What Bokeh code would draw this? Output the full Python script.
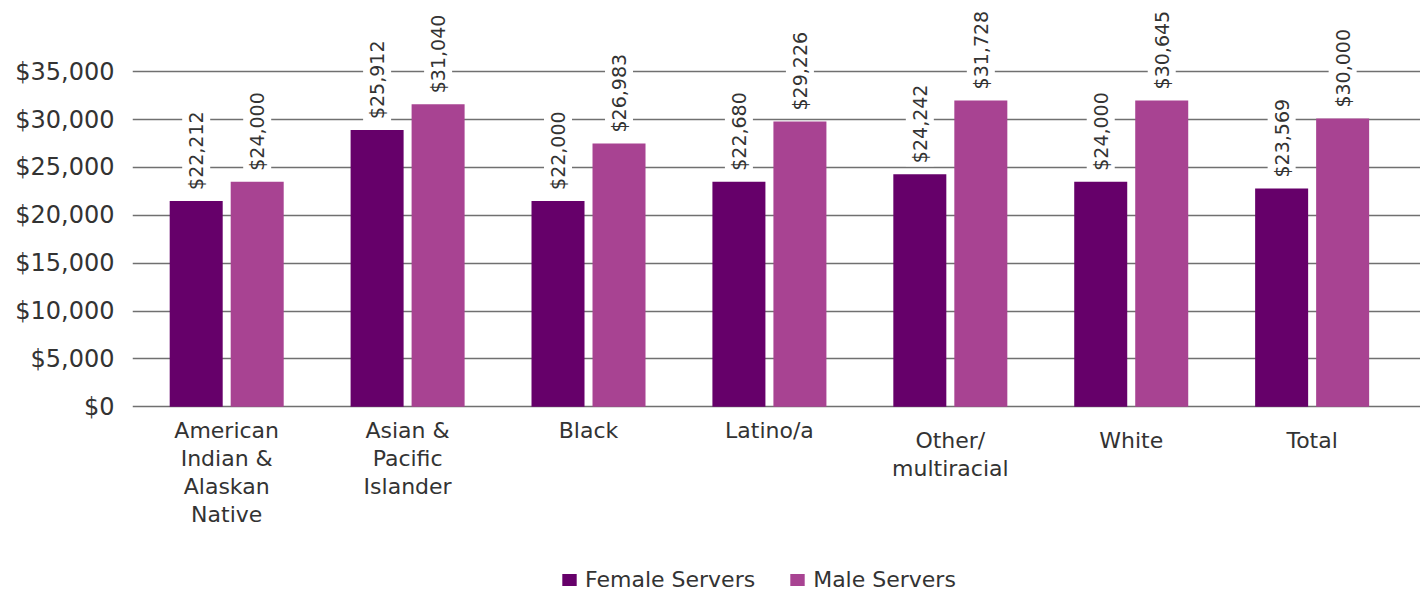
import numpy as np
from bokeh.plotting import figure
from bokeh.models import (Range1d, FixedTicker, NumeralTickFormatter, ColumnDataSource,
                          Legend, LegendItem)
from bokeh.core.properties import value
from bokeh.embed import file_html
from bokeh.resources import INLINE

# ---------------- data ----------------
categories = ["American\nIndian &\nAlaskan\nNative", "Asian &\nPacific\nIslander", "Black",
              "Latino/a", "Other/\nmultiracial", "White", "Total"]
series_names = ["Female Servers", "Male Servers"]
female_bar = [21500, 28900, 21500, 23500, 24300, 23500, 22800]
male_bar = [23500, 31600, 27500, 29800, 32000, 32000, 30100]
female_labels = ["$22,212", "$25,912", "$22,000", "$22,680", "$24,242", "$24,000", "$23,569"]
male_labels = ["$24,000", "$31,040", "$26,983", "$29,226", "$31,728", "$30,645", "$30,000"]
y_ticks = [0, 5000, 10000, 15000, 20000, 25000, 30000, 35000]

# ---------------- style ----------------
FONT = "DejaVu Sans"
TEXT = "#333333"
FEMALE_COLOR = "#66006a"
MALE_COLOR = "#a84392"
BAR_W = 0.293
DODGE = 0.1686
cat_label_offset = [11, 11, 11, 11, 21, 21, 21]

x = np.arange(len(categories), dtype=float)

p = figure(width=1420, height=592, output_backend="svg", toolbar_location=None,
           x_axis_location=None, y_axis_location="left",
           x_range=Range1d(-0.5207, 6.599), y_range=Range1d(-19384, 42431),
           min_border_left=132, min_border_right=0, min_border_top=0, min_border_bottom=0)
p.outline_line_color = None
p.background_fill_color = "white"
p.border_fill_color = "white"

src_f = ColumnDataSource(dict(x=x - DODGE, top=female_bar, lab=female_labels))
src_m = ColumnDataSource(dict(x=x + DODGE, top=male_bar, lab=male_labels))

rf = p.vbar(x="x", top="top", bottom=0, width=BAR_W, source=src_f,
            fill_color=FEMALE_COLOR, line_color=None)
rm = p.vbar(x="x", top="top", bottom=0, width=BAR_W, source=src_m,
            fill_color=MALE_COLOR, line_color=None)

for src in (src_f, src_m):
    p.text(x="x", y="top", text="lab", source=src, angle=np.pi / 2,
           text_align="left", text_baseline="middle", y_offset=-8,
           text_font=value(FONT), text_font_size="19px", text_color=TEXT,
           background_fill_color="white", padding=3)

src_c = ColumnDataSource(dict(x=x, y=[0] * len(categories), text=categories,
                              yoff=cat_label_offset))
p.text(x="x", y="y", text="text", y_offset="yoff", source=src_c,
       text_align="center", text_baseline="top", text_line_height=1.12,
       text_font=value(FONT), text_font_size="22px", text_color=TEXT)

# axis & grid
p.yaxis.ticker = FixedTicker(ticks=y_ticks)
p.yaxis.formatter = NumeralTickFormatter(format="$0,0")
p.yaxis.axis_line_color = None
p.yaxis.major_tick_line_color = None
p.yaxis.minor_tick_line_color = None
p.yaxis.major_label_standoff = 12
p.yaxis.major_label_text_font = FONT
p.yaxis.major_label_text_font_size = "24px"
p.yaxis.major_label_text_color = TEXT
p.ygrid.ticker = FixedTicker(ticks=y_ticks)
p.ygrid.grid_line_color = "#707070"
p.ygrid.grid_line_width = 1.3
p.xgrid.visible = False

legend = Legend(items=[LegendItem(label=series_names[0], renderers=[rf]),
                       LegendItem(label=series_names[1], renderers=[rm])],
                orientation="horizontal", location=(428, 0), padding=0, margin=0,
                spacing=33, label_standoff=7, glyph_width=18, glyph_height=15,
                border_line_color=None, background_fill_alpha=0,
                label_text_font=FONT, label_text_font_size="22px", label_text_color=TEXT)
p.add_layout(legend)

open("out.html", "w").write(file_html(p, INLINE))
